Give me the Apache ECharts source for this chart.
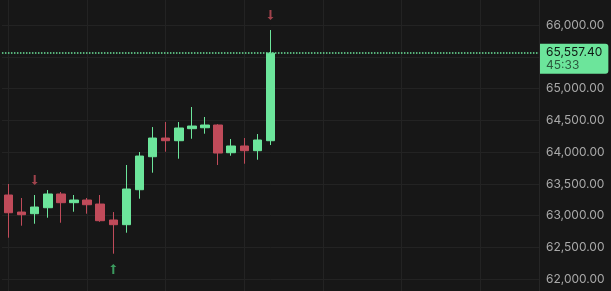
<!DOCTYPE html>
<html>
<head>
<meta charset="utf-8">
<script src="https://cdn.jsdelivr.net/npm/echarts@6/dist/echarts.min.js"></script>
<style>
  html, body { margin: 0; padding: 0; background: #171717; }
  #chart { width: 611px; height: 291px; }
</style>
</head>
<body>
<div id="chart"></div>
<script>
// Candle slots (21 filled candles + empty future slots)
const categories = ['c01','c02','c03','c04','c05','c06','c07','c08','c09','c10','c11','c12','c13','c14','c15','c16','c17','c18','c19','c20','c21',
  'f01','f02','f03','f04','f05','f06','f07','f08','f09','f10','f11','f12','f13','f14','f15','f16','f17','f18','f19','f20'];
// [open, close, low, high]
const opens  = [63326, 63058, 63032, 63126, 63342, 63205, 63247, 63184, 62933, 62859, 63409, 63928, 64222, 64180, 64369, 64384, 64427, 63991, 64097, 64023, 64180];
const closes = [63047, 63016, 63137, 63342, 63205, 63247, 63173, 62922, 62859, 63420, 63939, 64222, 64180, 64380, 64411, 64427, 63986, 64097, 64023, 64191, 65557.4];
const lows   = [62654, 62843, 62874, 62969, 62890, 63063, 63032, 62905, 62403, 62733, 63268, 63677, 64007, 63897, 64211, 64290, 63798, 63944, 63818, 63881, 64112];
const highs  = [63499, 63279, 63326, 63404, 63373, 63326, 63279, 63326, 63058, 63798, 64002, 64395, 64474, 64474, 64710, 64553, 64440, 64207, 64222, 64285, 65921];
const yTicks = { min: 61500, max: 66500, step: 500 };
const lastPrice = 65557.40;
const countdown = '45:33';
// signal arrows: [candle index, price level]
const downArrows = [[2, 63562], [20, 66157]];
const upArrows = [[8, 62162]];
const gridLineIdx = [0, 6, 12, 18, 24, 30, 36];

const UP = '#6ce59b', DOWN = '#c04b5a';
const ARROW_DOWN = 'path://M2,0 L4,0 L4,7 L6,7 L3,10 L0,7 L2,7 Z';
const ARROW_UP = 'path://M3,0 L6,3 L4,3 L4,10 L2,10 L2,3 L0,3 Z';

const candleData = opens.map((o, i) => [o, closes[i], lows[i], highs[i]]);
const fmt = v => v.toLocaleString('en-US', { minimumFractionDigits: 2, maximumFractionDigits: 2 });

const chart = echarts.init(document.getElementById('chart'), null, { renderer: 'canvas' });
chart.setOption({
  backgroundColor: '#171717',
  animation: false,
  grid: { left: 1.95, right: 72, top: -6.79, bottom: -20.1, containLabel: false, outerBoundsMode: 'none' },
  xAxis: {
    type: 'category',
    data: categories,
    boundaryGap: true,
    axisLine: { show: false },
    axisTick: { show: false },
    axisLabel: { show: false },
    splitLine: { show: false }
  },
  yAxis: {
    type: 'value',
    position: 'right',
    min: yTicks.min,
    max: yTicks.max,
    interval: yTicks.step,
    axisLine: { show: true, lineStyle: { color: '#262626', width: 1 } },
    axisTick: { show: false },
    axisLabel: {
      color: '#a9a9a9',
      fontFamily: 'Inter',
      fontSize: 12,
      margin: 7,
      showMinLabel: false,
      showMaxLabel: false,
      formatter: v => fmt(v)
    },
    splitLine: { show: true, lineStyle: { color: '#232323', width: 1 } }
  },
  series: [
    {
      type: 'line',
      data: [],
      z: 1,
      silent: true,
      markLine: {
        z: 1,
        silent: true,
        symbol: ['none', 'none'],
        label: { show: false },
        lineStyle: { color: '#232323', type: 'solid', width: 1 },
        data: gridLineIdx.map(i => ({ xAxis: i }))
      }
    },
    {
      type: 'candlestick',
      data: candleData,
      z: 3,
      barWidth: 9,
      itemStyle: {
        color: UP, color0: DOWN,
        borderColor: UP, borderColor0: DOWN,
        borderWidth: 1
      },
      markLine: {
        z: 4,
        silent: true,
        symbol: ['none', 'none'],
        data: [{
          yAxis: lastPrice,
          lineStyle: { color: UP, type: [1.5, 1.5], width: 1.5 },
          label: {
            show: true,
            position: 'end',
            distance: 1,
            formatter: '{p|' + fmt(lastPrice) + '}\n{t|' + countdown + '}',
            backgroundColor: UP,
            fontFamily: 'Inter',
            fontSize: 12,
            lineHeight: 13,
            align: 'left',
            verticalAlign: 'top',
            offset: [0, -9.5],
            padding: [2, 6, 2, 6],
            borderRadius: [0, 3, 3, 0],
            rich: {
              p: { color: '#0f1a14', fontFamily: 'Inter', fontSize: 12, lineHeight: 13 },
              t: { color: '#2c5a3e', fontFamily: 'Inter', fontSize: 12, lineHeight: 13 }
            }
          }
        }]
      },
      markPoint: {
        z: 4,
        silent: true,
        label: { show: false },
        data: downArrows.map(a => ({
          coord: a, symbol: ARROW_DOWN, symbolSize: [6, 10],
          itemStyle: { color: '#a0434c' }
        })).concat(upArrows.map(a => ({
          coord: a, symbol: ARROW_UP, symbolSize: [6, 10],
          itemStyle: { color: '#3b9a5e' }
        })))
      }
    }
  ]
});
</script>
</body>
</html>
